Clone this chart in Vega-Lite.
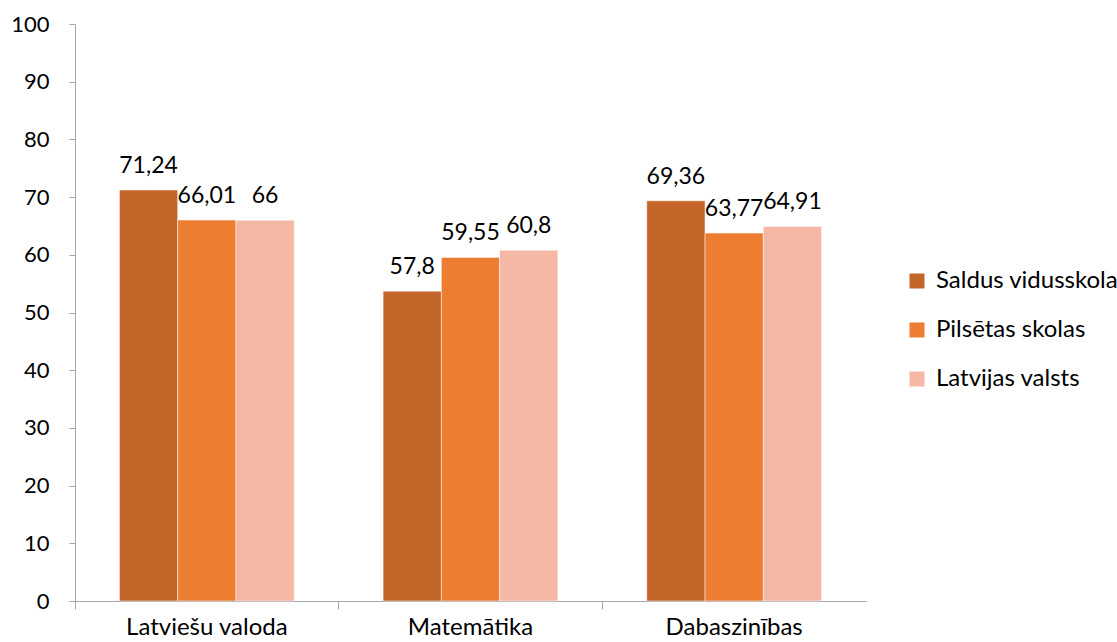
{
  "$schema": "https://vega.github.io/schema/vega-lite/v6.json",
  "autosize": {"type": "none"},
  "width": 791,
  "height": 577,
  "padding": {"left": 75, "top": 24, "right": 251, "bottom": 41},
  "background": "white",
  "config": {
    "view": {"stroke": null},
    "font": "Lato",
    "axis": {"labelFont": "Lato", "labelColor": "#000000", "grid": false, "domainColor": "#A6A6A6", "tickColor": "#A6A6A6"},
    "legend": {"labelFont": "Lato"}
  },
  "data": {
    "values": [
      {"subject": "Latviešu valoda", "group": "Saldus vidusskola", "value": 71.24, "label": "71,24"},
      {"subject": "Latviešu valoda", "group": "Pilsētas skolas", "value": 66.01, "label": "66,01"},
      {"subject": "Latviešu valoda", "group": "Latvijas valsts", "value": 66, "label": "66"},
      {"subject": "Matemātika", "group": "Saldus vidusskola", "value": 53.7, "label": "57,8"},
      {"subject": "Matemātika", "group": "Pilsētas skolas", "value": 59.55, "label": "59,55"},
      {"subject": "Matemātika", "group": "Latvijas valsts", "value": 60.8, "label": "60,8"},
      {"subject": "Dabaszinības", "group": "Saldus vidusskola", "value": 69.36, "label": "69,36"},
      {"subject": "Dabaszinības", "group": "Pilsētas skolas", "value": 63.77, "label": "63,77"},
      {"subject": "Dabaszinības", "group": "Latvijas valsts", "value": 64.91, "label": "64,91"}
    ]
  },
  "encoding": {
    "x": {
      "field": "subject", "type": "nominal",
      "sort": ["Latviešu valoda", "Matemātika", "Dabaszinības"],
      "scale": {"paddingInner": 0.337, "paddingOuter": 0.1685},
      "axis": {"title": null, "labelAngle": 0, "labelFontSize": 24, "labelPadding": 6, "tickSize": 8, "bandPosition": -0.254, "labelBaseline": "top"}
    },
    "xOffset": {"field": "group", "type": "nominal", "sort": ["Saldus vidusskola", "Pilsētas skolas", "Latvijas valsts"], "scale": {"paddingInner": 0, "paddingOuter": 0}},
    "y": {
      "field": "value", "type": "quantitative",
      "scale": {"domain": [0, 100], "nice": false},
      "axis": {"title": null, "values": [0,10,20,30,40,50,60,70,80,90,100], "labelFontSize": 22, "tickSize": 6, "labelPadding": 20}
    }
  },
  "layer": [
    {
      "mark": {"type": "bar", "stroke": "white", "strokeWidth": 0.5},
      "encoding": {
        "color": {
          "field": "group", "type": "nominal",
          "sort": ["Saldus vidusskola", "Pilsētas skolas", "Latvijas valsts"],
          "scale": {"domain": ["Saldus vidusskola", "Pilsētas skolas", "Latvijas valsts"], "range": ["#C4652A", "#ED7D31", "#F4B8A4"]},
          "legend": {
            "title": null, "orient": "none", "legendX": 830, "legendY": 245,
            "symbolType": "square", "symbolSize": 225, "symbolStrokeWidth": 0,
            "labelFontSize": 24, "labelLimit": 400, "rowPadding": 25, "labelOffset": 7, "padding": 0
          }
        }
      }
    },
    {
      "mark": {"type": "text", "baseline": "bottom", "dy": -12, "fontSize": 23, "color": "#000000"},
      "encoding": {"text": {"field": "label"}}
    }
  ]
}
